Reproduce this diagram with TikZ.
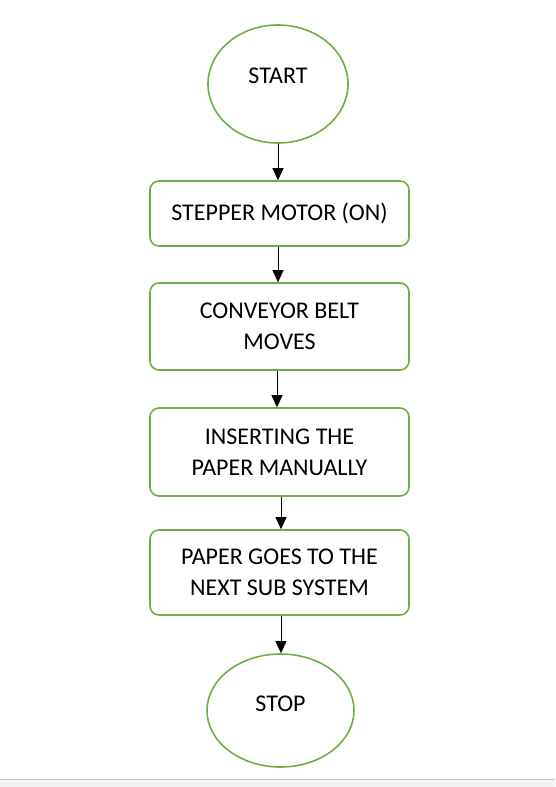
\documentclass[tikz,border=0pt]{standalone}
\usepackage{fontspec}
\setmainfont{Carlito}
\usetikzlibrary{shapes.geometric,arrows.meta}
\definecolor{grn}{HTML}{70AD47}
\begin{document}
\begin{tikzpicture}[x=1pt,y=-1pt,
  term/.style={ellipse,draw=grn,line width=1.6pt,inner sep=0pt},
  proc/.style={draw=grn,line width=1.6pt,rounded corners=9pt,align=center,inner sep=0pt,minimum width=259pt},
  flow/.style={-{Triangle[width=11pt,length=12pt]},line width=0.8pt},
  font=\fontsize{24}{31}\selectfont]
\useasboundingbox (0,0) rectangle (555,787);
\fill[black!5] (0,779) rectangle (555,787);
\draw[black!22, line width=1pt] (0,779) -- (555,779);
\node[term,minimum width=140pt,minimum height=118pt] (start) at (278,84) {};
\node (startlbl) at ([yshift=8.5pt]start.center) {START};
\node[proc,minimum height=65pt] (b1) at (279.5,213.5) {STEPPER MOTOR (ON)};
\node[proc,minimum height=87pt] (b2) at (279.5,326.5) {CONVEYOR BELT\\MOVES};
\node[proc,minimum height=88pt] (b3) at (279.5,452) {INSERTING THE\\PAPER MANUALLY};
\node[proc,minimum height=85pt] (b4) at (279.5,572.5) {PAPER GOES TO THE\\NEXT SUB SYSTEM};
\node[term,minimum width=147pt,minimum height=113pt] (stop) at (280.5,710.5) {};
\node (stoplbl) at ([yshift=7pt]stop.center) {STOP};
\draw[flow] (start.south) -- (start.south |- b1.north);
\draw[flow] ([xshift=-1.5pt]b1.south) -- ([xshift=-1.5pt]b2.north);
\draw[flow] ([xshift=-2.5pt]b2.south) -- ([xshift=-2.5pt]b3.north);
\draw[flow] ([xshift=1.5pt]b3.south) -- ([xshift=1.5pt]b4.north);
\draw[flow] ([xshift=1.5pt]b4.south) -- ([xshift=1.5pt]b4.south |- stop.north);
\end{tikzpicture}
\end{document}
